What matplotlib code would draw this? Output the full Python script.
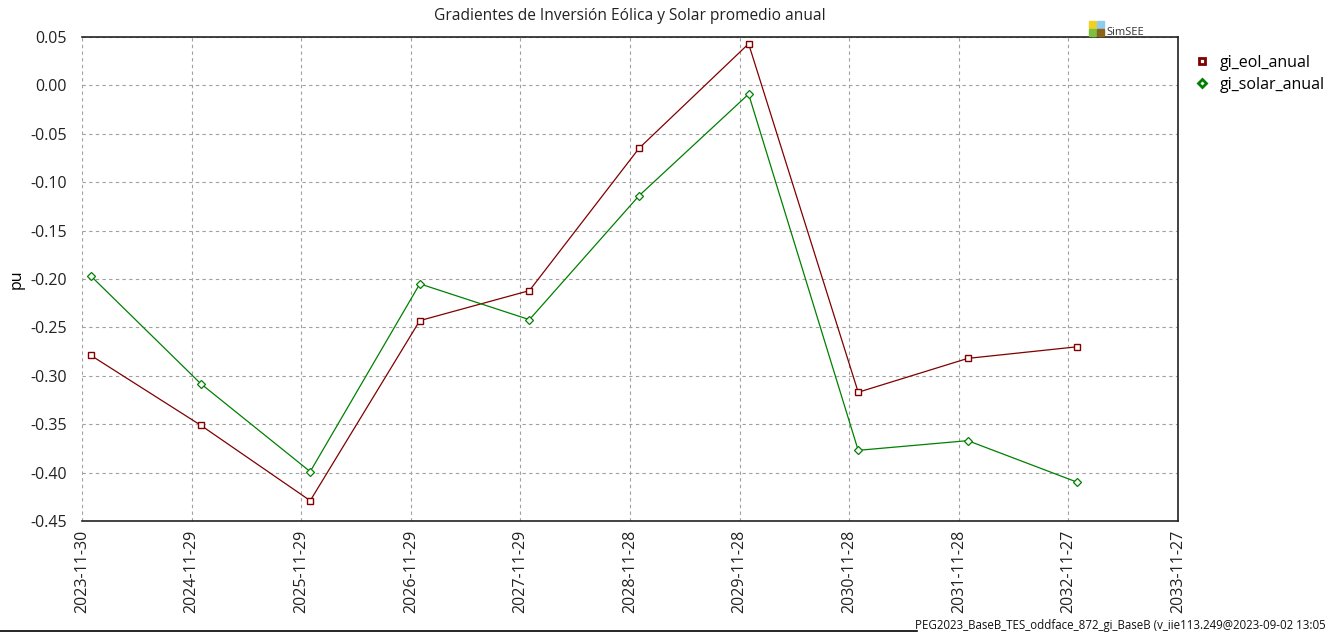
import numpy as np
import pandas as pd
import matplotlib
matplotlib.use("Agg")
import matplotlib.pyplot as plt
from matplotlib.lines import Line2D
from matplotlib.patches import Rectangle

plt.rcParams['font.family'] = ['Open Sans', 'DejaVu Sans']

# x ticks every 365 days
tick_dates = pd.to_datetime([
    "2023-11-30", "2024-11-29", "2025-11-29", "2026-11-29", "2027-11-29",
    "2028-11-28", "2029-11-28", "2030-11-28", "2031-11-28", "2032-11-27",
    "2033-11-27",
])

point_dates = pd.to_datetime([
    "2023-12-30", "2024-12-29", "2025-12-29", "2026-12-29", "2027-12-29",
    "2028-12-28", "2029-12-28", "2030-12-28", "2031-12-28", "2032-12-27",
])

gi_eol_anual = [-0.279, -0.351, -0.429, -0.243, -0.212, -0.065, 0.043, -0.317, -0.282, -0.270]
gi_solar_anual = [-0.197, -0.308, -0.399, -0.205, -0.242, -0.114, -0.009, -0.377, -0.367, -0.410]

y_ticks = [0.05, 0.00, -0.05, -0.10, -0.15, -0.20, -0.25, -0.30, -0.35, -0.40, -0.45]

W, H = 1326, 634
fig = plt.figure(figsize=(W / 100, H / 100), dpi=100)
ax = fig.add_axes([82 / W, 1 - 521 / H, (1178 - 82) / W, (521 - 37) / H])

eol_col = "#800000"
sol_col = "#008000"

ax.plot(point_dates, gi_eol_anual, color=eol_col, lw=0.9, marker="s", ms=5,
        mfc="white", mec=eol_col, mew=1.0, zorder=3)
ax.plot(point_dates, gi_solar_anual, color=sol_col, lw=0.9, marker="D", ms=4.5,
        mfc="white", mec=sol_col, mew=0.9, zorder=3)

ax.set_xlim(tick_dates[0], tick_dates[-1])
ax.set_ylim(-0.45, 0.05)
ax.set_xticks(tick_dates)
ax.set_xticklabels([d.strftime("%Y-%m-%d") for d in tick_dates], rotation=90, fontsize=11.5)
ax.set_yticks(y_ticks)
ax.set_yticklabels(["%.2f" % v for v in y_ticks], fontsize=11.5)
ax.tick_params(axis="x", length=0, pad=6, colors="#222222")
ax.tick_params(axis="y", length=0, pad=11, colors="#222222")

ax.grid(True, color="#a0a0a0", linestyle=(0, (3, 3)), linewidth=0.8)
ax.spines["left"].set_visible(False)
for s in ["top", "right", "bottom"]:
    ax.spines[s].set_color("#222222")
    ax.spines[s].set_linewidth(1.2)

ax.set_ylabel("pu", fontsize=11.5, labelpad=4)
fig.text(630 / W, 1 - 16 / H, "Gradientes de Inversión Eólica y Solar promedio anual",
         ha="center", va="center", fontsize=11.2, color="#222222")

# legend (markers only)
handles = [
    Line2D([], [], linestyle="none", marker="s", ms=5, mfc="white", mec=eol_col, mew=2),
    Line2D([], [], linestyle="none", marker="D", ms=4.5, mfc="white", mec=sol_col, mew=2),
]
fig.legend(handles, ["gi_eol_anual", "gi_solar_anual"], loc="upper left",
           bbox_to_anchor=(1188 / W, 1 - 47 / H), frameon=False, fontsize=11.5,
           handlelength=0.8, handletextpad=0.7, labelspacing=0.35, borderpad=0)

# SimSEE logo
logo = [("#f0d020", 1089, 21), ("#8ecbf0", 1097, 21), ("#7cc040", 1089, 29), ("#8b6418", 1097, 29)]
for c, x, y in logo:
    fig.patches.append(Rectangle((x / W, 1 - (y + 6.5) / H), 6.5 / W, 6.5 / H,
                                 transform=fig.transFigure, color=c))
fig.text(1106 / W, 1 - 35 / H, "SimSEE", fontsize=8, color="#333333", ha="left", va="baseline")

# footer
fig.lines.append(Line2D([0, 917 / W], [1 - 631 / H, 1 - 631 / H], transform=fig.transFigure,
                        color="black", lw=1.2))
fig.text(1326 / W, 1 - 626 / H,
         "PEG2023_BaseB_TES_oddface_872_gi_BaseB (v_iie113.249@2023-09-02 13:05",
         ha="right", va="center", fontsize=8.3, color="#111111")

fig.savefig("out.png", dpi=100)
